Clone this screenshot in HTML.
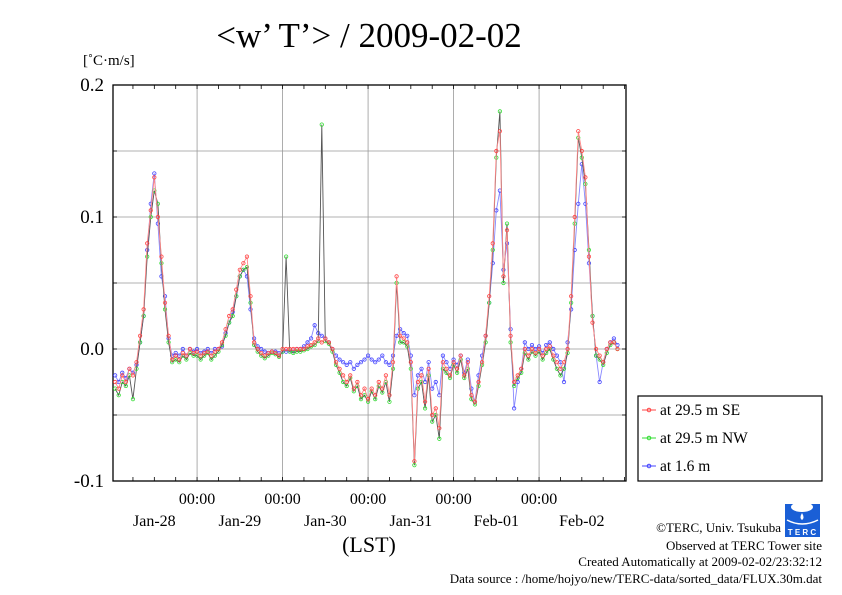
<!DOCTYPE html>
<html><head><meta charset="utf-8"><style>
body{margin:0;background:#fff;}
svg{display:block;font-family:"Liberation Serif",serif;}
</style></head><body>
<svg width="842" height="595" viewBox="0 0 842 595">
<text x="369" y="47" font-size="35" text-anchor="middle">&lt;w’ T’&gt; / 2009-02-02</text>
<text x="83" y="65" font-size="15">[˚C·m/s]</text>
<g id="grid"></g>
<rect x="113" y="85" width="513" height="396" fill="none" stroke="#000" stroke-width="1.3"/>
<g id="ticks"></g>
<g id="series"></g>
<text x="369" y="552" font-size="22" text-anchor="middle">(LST)</text>
<g>
<rect x="638" y="396" width="184" height="85" fill="#fff" stroke="#000" stroke-width="1.2"/>
<g><line x1="642" y1="410" x2="656" y2="410" stroke="#f44"/><circle cx="649" cy="410" r="1.8" fill="none" stroke="#f44"/><text x="660" y="415" font-size="15.5">at 29.5 m SE</text></g>
<g><line x1="642" y1="438" x2="656" y2="438" stroke="#3d3"/><circle cx="649" cy="438" r="1.8" fill="none" stroke="#3d3"/><text x="660" y="443" font-size="15.5">at 29.5 m NW</text></g>
<g><line x1="642" y1="466" x2="656" y2="466" stroke="#44f"/><circle cx="649" cy="466" r="1.8" fill="none" stroke="#44f"/><text x="660" y="471" font-size="15.5">at 1.6 m</text></g>
</g>
<g>
<rect x="785" y="504" width="35" height="33" fill="#1a5fd6"/>
<ellipse cx="802" cy="507" rx="11" ry="5" fill="#fff"/>
<path d="M802 513 q-3 5 0 7 q3 -2 0 -7z" fill="#fff"/>
<path d="M787 520 q15 8 31 0" stroke="#fff" fill="none" stroke-width="1.5"/>
<text x="802" y="535" font-size="8" fill="#fff" text-anchor="middle" font-family="Liberation Sans,sans-serif" font-weight="bold">T E R C</text>
</g>
<g font-size="13" text-anchor="end">
<text x="781" y="532">©TERC, Univ. Tsukuba</text>
<text x="822" y="550">Observed at TERC Tower site</text>
<text x="822" y="566">Created Automatically at 2009-02-02/23:32:12</text>
<text x="822" y="583">Data source : /home/hojyo/new/TERC-data/sorted_data/FLUX.30m.dat</text>
</g>
</svg>
<script>
// hours relative to 2009-01-28 00:00 LST, values ×0.001 °C·m/s
const hours=[];for(let h=-23;h<=118;h++)hours.push(h);
const seriesSE=[-25,-30,-20,-25,-15,-20,-10,10,30,80,105,130,100,70,35,10,-8,-5,-8,-3,-5,0,-3,
-2,-5,-3,-2,-5,-2,0,5,15,25,30,45,60,65,70,40,5,0,-3,-5,-3,-2,-3,-5,
0,0,0,0,0,0,0,2,3,5,8,5,8,5,0,-10,-15,-20,-25,-20,-30,-25,-35,-30,
-38,-30,-35,-25,-30,-20,-35,-10,55,10,8,5,-10,-85,-25,-20,-40,-15,-50,-45,-60,-10,-15,-20,
-10,-15,-5,-20,-10,-35,-40,-25,-10,10,40,80,150,165,55,90,10,-25,-20,-15,0,-5,0,-3,
0,-5,0,2,-5,-10,-15,-10,0,40,100,165,150,130,70,20,0,-5,-10,0,5,5,0];
const seriesNW=[-30,-35,-25,-28,-20,-38,-15,5,25,70,100,120,110,65,30,5,-10,-8,-10,-5,-8,-3,-5,
-5,-8,-5,-3,-8,-5,-2,3,10,20,25,40,55,60,62,35,3,-2,-5,-7,-5,-3,-4,-6,
-2,70,-2,-3,-2,-2,-1,0,2,3,6,170,6,4,-2,-12,-18,-25,-28,-22,-32,-28,-38,-35,
-40,-32,-38,-28,-33,-25,-40,-15,50,5,5,2,-15,-88,-30,-25,-45,-20,-55,-50,-68,-15,-18,-22,
-12,-18,-8,-22,-15,-38,-42,-28,-12,5,35,75,145,180,50,95,5,-28,-22,-18,-3,-8,-2,-5,
-2,-8,-3,0,-8,-15,-20,-15,-3,35,95,160,145,125,75,25,-5,-8,-12,-3,3,5,0];
const series16m=[-20,-25,-18,-22,-15,-18,-12,5,25,75,110,133,95,55,40,8,-5,-3,-5,0,-5,0,-2,
0,-3,-2,0,-3,0,0,2,12,20,28,40,55,60,55,30,8,2,0,-2,-3,-2,-2,-3,
-2,-2,-1,-1,0,0,2,5,8,18,12,10,8,5,0,-5,-8,-10,-12,-10,-15,-12,-10,-8,
-5,-8,-10,-8,-5,-10,-12,-5,10,15,12,10,-5,-35,-20,-15,-25,-10,-30,-25,-35,-5,-10,-15,
-8,-12,-5,-18,-8,-30,-40,-20,-5,10,35,65,105,120,60,80,15,-45,-25,-15,5,0,3,0,
2,-3,3,5,0,-5,-10,-25,5,30,75,110,140,110,65,25,-5,-25,-10,0,5,8,3];
const yTicks=[0.2,0.1,0.0,-0.1];
const yTickLabels=["0.2","0.1","0.0","-0.1"];
const dayHours=[0,24,48,72,96];
const dateLabels=["Jan-28","Jan-29","Jan-30","Jan-31","Feb-01","Feb-02"];
const dateLabelHours=[-12,12,36,60,84,108];

const X0=113,X1=626,Y0=85,Y1=481,H0=-23.6,H1=120.4,V0=-0.1,V1=0.2;
const xs=h=>X0+(h-H0)/(H1-H0)*(X1-X0);
const ys=v=>Y1-(v-V0)/(V1-V0)*(Y1-Y0);
const NS="http://www.w3.org/2000/svg";
function mk(tag,attrs,parent){const e=document.createElementNS(NS,tag);for(const k in attrs)e.setAttribute(k,attrs[k]);parent.appendChild(e);return e;}
const grid=document.getElementById('grid'),ticks=document.getElementById('ticks'),ser=document.getElementById('series');
for(let v=-0.05;v<0.2;v+=0.05){const g=mk('line',{x1:X0,x2:X1,y1:ys(v),y2:ys(v),stroke:'#999','stroke-width':0.8},grid);

}
dayHours.forEach(h=>{const g=mk('line',{x1:xs(h),x2:xs(h),y1:Y0,y2:Y1,stroke:'#999','stroke-width':0.8},grid);


const t=mk('text',{x:xs(h),y:504,'font-size':16,'text-anchor':'middle'},ticks);t.textContent='00:00';

});
for(let h=-18;h<=120;h+=6){[Y0,Y1].forEach(y=>{const l=mk('line',{x1:xs(h),x2:xs(h),y1:y,y2:y===Y0?y+4:y-4,stroke:'#000','stroke-width':0.8},ticks);

});}
dateLabels.forEach((d,i)=>{const t=mk('text',{x:xs(dateLabelHours[i]),y:526,'font-size':16,'text-anchor':'middle'},ticks);t.textContent=d;

});
yTicks.forEach((v,i)=>{const t=mk('text',{x:104,y:ys(v)+6,'font-size':19,'text-anchor':'end'},ticks);t.textContent=yTickLabels[i];

});
for(let v=-0.05;v<0.2;v+=0.05){[X0,X1].forEach(x=>{const l=mk('line',{x1:x,x2:x===X0?x+4:x-4,y1:ys(v),y2:ys(v),stroke:'#000','stroke-width':0.8},ticks);

});}
function draw(vals,color,name,lc){
 const g=mk('g',{},ser);
 
 
 const pts=vals.map((v,i)=>xs(hours[i]).toFixed(1)+','+ys(v/1000).toFixed(1)).join(' ');
 const pl=mk('polyline',{points:pts,fill:'none',stroke:lc,'stroke-width':0.9},g);
 
 
 vals.forEach((v,i)=>{const c=mk('circle',{cx:xs(hours[i]),cy:ys(v/1000),r:1.7,fill:'none',stroke:color,'stroke-width':0.8},g);
 
 });
}
draw(series16m,'#44f','series-1-6m','#88f');
draw(seriesNW,'#3d3','series-29-5m-nw','#555');
draw(seriesSE,'#f44','series-29-5m-se','#f88');
</script>
</body></html>
